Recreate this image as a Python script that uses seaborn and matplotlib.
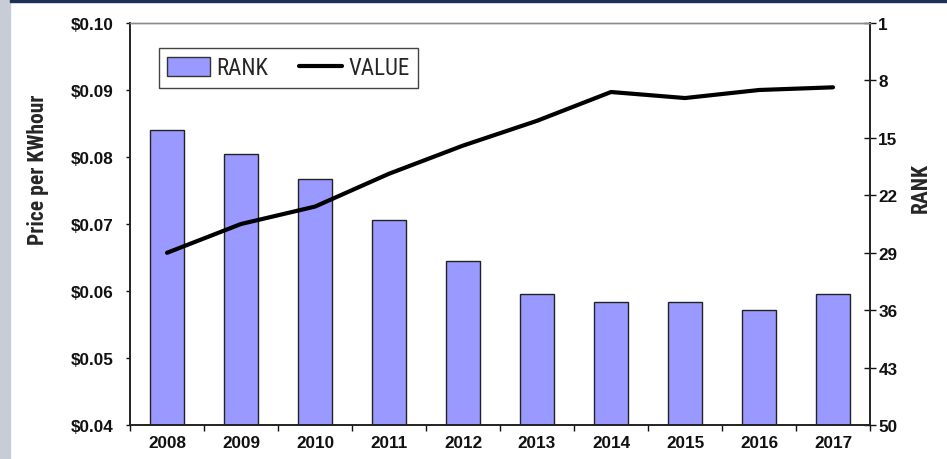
import matplotlib.pyplot as plt
import numpy as np
import seaborn as sns
from matplotlib.lines import Line2D
from matplotlib.patches import Patch, Rectangle

# data
years = ["2008", "2009", "2010", "2011", "2012", "2013", "2014", "2015", "2016", "2017"]
rank = [14, 17, 20, 25, 30, 34, 35, 35, 36, 34]
value = [0.0657, 0.0700, 0.0726, 0.0775, 0.0817, 0.0854, 0.0897, 0.0888, 0.0900, 0.0904]
rank_ticks = [1, 8, 15, 22, 29, 36, 43, 50]
price_ticks = [0.04, 0.05, 0.06, 0.07, 0.08, 0.09, 0.10]
worst_rank = 50

sns.set_theme(style="ticks")
plt.rcParams["font.family"] = ["Liberation Sans", "DejaVu Sans"]
# condensed face for the axis titles and legend
narrow = ["Roboto Condensed", "Liberation Sans Narrow", "DejaVu Sans"]

fig = plt.figure(figsize=(9.47, 4.6), dpi=100)
W, H = 947, 460
ax = fig.add_axes([130 / W, 34 / H, 740 / W, 402 / H])
ax2 = ax.twinx()

# frame decorations from the original slide
fig.add_artist(Rectangle((0, 0), 10 / W, 1, transform=fig.transFigure,
                         color="#c8ccd6", zorder=0))
fig.add_artist(Rectangle((10 / W, 1 - 3 / H), 1, 3 / H, transform=fig.transFigure,
                         color="#1f3057", zorder=0))

# bars: rank measured upward from the worst rank (right axis is inverted)
depth = [worst_rank - r for r in rank]
sns.barplot(x=years, y=depth, color="#9999ff", saturation=1, width=0.46,
            edgecolor="#222222", linewidth=1, ax=ax)
ax.set_ylim(0, worst_rank - 1)
ax.yaxis.tick_right()
ax.yaxis.set_label_position("right")
ax.set_yticks([worst_rank - t for t in rank_ticks], labels=[str(t) for t in rank_ticks],
              fontweight="bold", fontsize=12.3)
ax.tick_params(axis="y", direction="inout", length=8, width=1, pad=2, colors="#111111",
               right=True, left=False)
ax.set_ylabel("RANK", family=narrow, fontweight="bold", fontsize=15.5, fontstretch="condensed")
ax.yaxis.set_label_coords(1.054, 0.592)

# line on the twin, but show its axis on the left
sns.lineplot(x=np.arange(len(years)), y=value, color="black", linewidth=3, ax=ax2)
ax2.yaxis.tick_left()
ax2.yaxis.set_label_position("left")
ax2.set_ylim(0.04, 0.10)
ax2.set_yticks(price_ticks, labels=["${:.2f}".format(p) for p in price_ticks],
               fontweight="bold", fontsize=12.3)
ax2.tick_params(axis="y", direction="out", length=3, width=1, pad=9, colors="#111111",
                left=True, right=False)
ax2.set_ylabel("Price per KWhour", family=narrow, fontweight="bold", fontsize=15.5,
               fontstretch="condensed")
ax2.yaxis.set_label_coords(-0.109, 0.637)

# category axis with ticks between the bars
ax.set_xlim(-0.5, len(years) - 0.5)
ax.set_xticks(range(len(years)), labels=years, fontweight="bold", fontsize=12.3)
ax.set_xticks(np.arange(-0.5, len(years), 1), minor=True)
ax.tick_params(axis="x", which="major", length=0, pad=7.5, colors="#111111")
ax.tick_params(axis="x", which="minor", direction="out", length=4, width=1, color="#111111")
ax.set_xlabel("")

for a in (ax, ax2):
    for side in ("left", "right", "bottom"):
        a.spines[side].set_color("#222222")
        a.spines[side].set_linewidth(1.2)
    a.spines["top"].set_color("#8a8a8a")
    a.spines["top"].set_linewidth(1)

handles = [Patch(facecolor="#9999ff", edgecolor="#333333", linewidth=1, label="RANK"),
           Line2D([], [], color="black", linewidth=3, label="VALUE")]
leg = ax2.legend(handles=handles, loc="upper left", ncol=2,
                 bbox_to_anchor=(159 / W, 1 - 49 / H), bbox_transform=fig.transFigure,
                 borderaxespad=0, frameon=True, fancybox=False, shadow=False,
                 prop={"family": narrow, "size": 16.5, "stretch": "condensed"},
                 handlelength=1.85, handleheight=0.87,
                 handletextpad=0.3, columnspacing=1.35, borderpad=0.36)
leg.get_frame().set_edgecolor("#444444")
leg.get_frame().set_linewidth(1)
leg.get_frame().set_alpha(1)

fig.savefig("out.png", dpi=100)
